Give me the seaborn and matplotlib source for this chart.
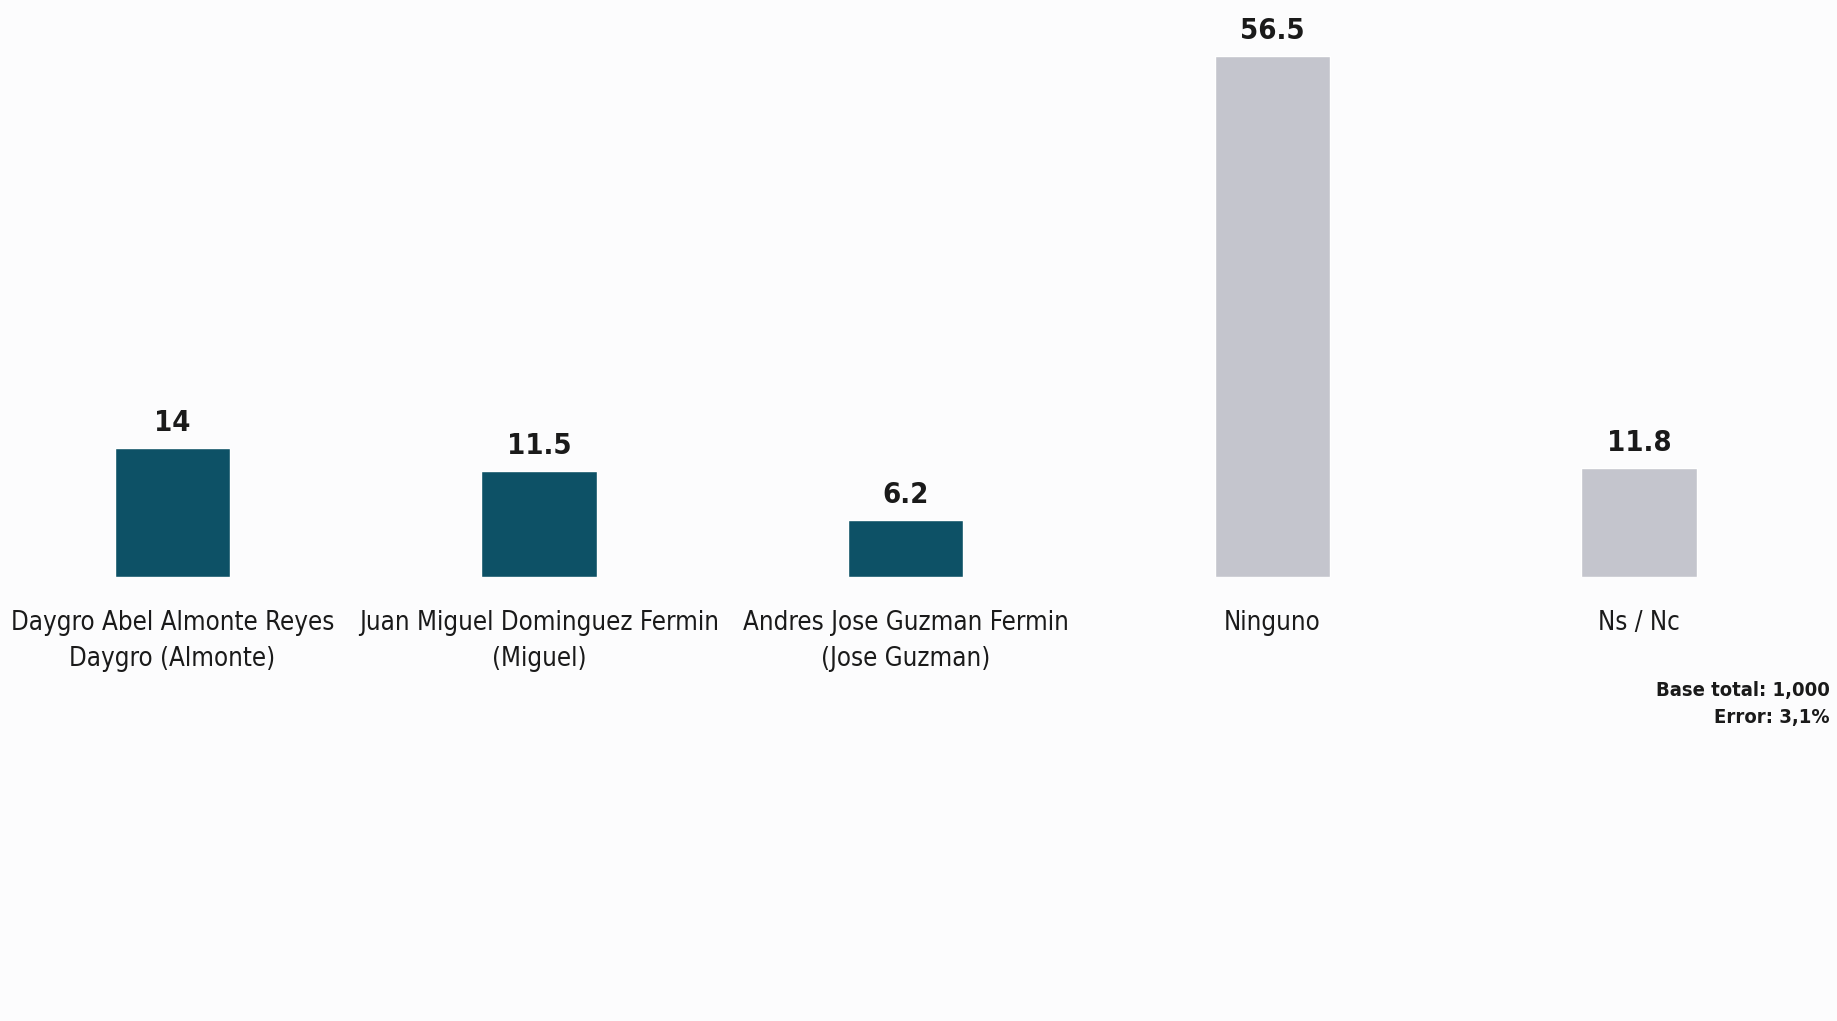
import matplotlib
matplotlib.use("Agg")
import matplotlib.pyplot as plt
import seaborn as sns
import pandas as pd

# Chart data
candidates = [
    "Daygro Abel Almonte Reyes\nDaygro (Almonte)",
    "Juan Miguel Dominguez Fermin\n(Miguel)",
    "Andres Jose Guzman Fermin\n(Jose Guzman)",
    "Ninguno",
    "Ns / Nc",
]
values = [14, 11.5, 6.2, 56.5, 11.8]
value_labels = ["14", "11.5", "6.2", "56.5", "11.8"]
bar_colors = ["#0d5166", "#0d5166", "#0d5166", "#c4c5cd", "#c4c5cd"]
footnote = "Base total: 1,000\nError: 3,1%"

df = pd.DataFrame({"Candidato": candidates, "Porcentaje": values})

sns.set_style("white")
plt.rcParams["font.family"] = ["DejaVu Sans"]
plt.rcParams["font.stretch"] = "condensed"

fig = plt.figure(figsize=(18.37, 10.21), dpi=100, facecolor="#fcfcfd")
ax = fig.add_axes([0, 0.435, 1, 0.555])
ax.set_facecolor("#fcfcfd")

sns.barplot(data=df, x="Candidato", y="Porcentaje", hue="Candidato",
            palette=bar_colors, width=0.315, legend=False, ax=ax, saturation=1)

ax.set_xlim(-0.47, 4.54)
ax.set_ylim(0, 61.5)

# value labels above bars
for i, (v, lab) in enumerate(zip(values, value_labels)):
    ax.text(i, v + 1.2, lab, ha="center", va="bottom", fontsize=21,
            fontweight="bold", color="#1a1a1a")

ax.set_xlabel("")
ax.set_ylabel("")
ax.set_yticks([])
ax.tick_params(axis="x", length=0, pad=24, labelsize=18.5, labelcolor="#1a1a1a")
for t in ax.get_xticklabels():
    t.set_multialignment("center")
    t.set_linespacing(1.5)
sns.despine(ax=ax, left=True, bottom=True)

fig.text(0.996, 0.288, footnote, ha="right", va="bottom", fontsize=14.5,
         fontweight="bold", color="#1a1a1a", linespacing=1.55)

fig.savefig("out.png", dpi=100, facecolor=fig.get_facecolor())
